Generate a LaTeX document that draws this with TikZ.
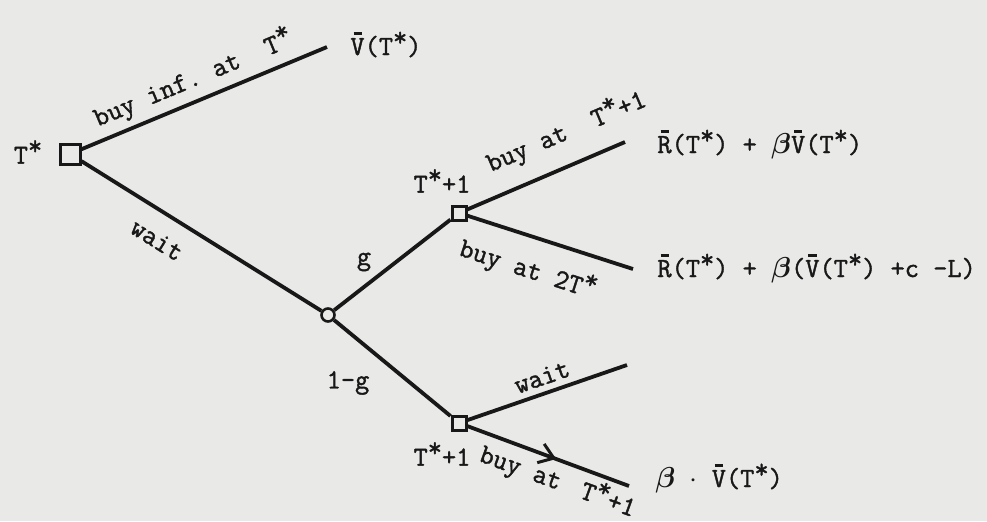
\documentclass[tikz,border=0pt]{standalone}
\usepackage{amsmath}
\usepackage{fontspec}
\setmonofont{Latin Modern Mono}[FakeBold=1.4]
\usepackage{tikz}
\usetikzlibrary{arrows.meta, positioning, decorations.markings}
\definecolor{paper}{RGB}{233,233,231}
\definecolor{ink}{RGB}{24,24,24}
\newcommand{\Ts}{T\raisebox{0.75ex}{*}}
\newcommand{\barred}[1]{\makebox[0pt][l]{\makebox[0.525em]{\rule[0.74em]{0.3em}{0.08em}}}#1}
\newcommand{\Vb}{\barred{V}}
\newcommand{\Rb}{\barred{R}}
\newcommand{\bt}{$\boldsymbol{\beta}$}

\begin{document}
\begin{tikzpicture}[
  x=0.5pt, y=-0.5pt,
  dec/.style={draw=ink, line width=1.5pt, fill=paper, minimum size=#1, inner sep=0pt},
  dec/.default=7pt,
  chance/.style={circle, draw=ink, line width=1.3pt, fill=paper, minimum size=6.5pt, inner sep=0pt},
  branch/.style={draw=ink, line width=1.9pt},
  lbl/.style={text=ink, inner sep=1pt, font=\ttfamily\fontsize{13.8}{15}\selectfont},
  payoff/.style={lbl, anchor=base west}
]
  \fill[paper] (0,0) rectangle (987,521);
  \useasboundingbox (0,0) rectangle (987,521);

  % decision and chance nodes
  \node[dec=10pt] (d0) at (70,154) {};
  \node[chance] (c1) at (328,315) {};
  \node[dec] (d1) at (459,213) {};
  \node[dec] (d2) at (459,423) {};

  % ends of the branches
  \coordinate (e1) at (327,47);
  \coordinate (e2) at (625,142);
  \coordinate (e3) at (633,269);
  \coordinate (e4) at (627,365);
  \coordinate (e5) at (629,486);

  \draw[branch] (d0) -- (e1);
  \draw[branch] (d0) -- (c1);
  \draw[branch] (c1) -- (d1);
  \draw[branch] (c1) -- (d2);
  \draw[branch] (d1) -- (e2);
  \draw[branch] (d1) -- (e3);
  \draw[branch] (d2) -- (e4);
  \draw[branch, postaction={decorate}, decoration={markings,
    mark=at position 0.55 with {\arrow{Straight Barb[length=7pt, width=10pt, line width=1.5pt]}}}]
    (d2) -- (e5);

  % node labels
  \node[lbl] (t0) at (28,152) {\Ts};
  \node[lbl] (t1) at (442,181) {\Ts+1};
  \node[lbl] (t2) at (442,454) {\Ts+1};

  % branch labels
  \node[lbl, rotate=22.6] (b1) at (193,78) {buy inf. at~~\Ts};
  \node[lbl, rotate=-32] (w1) at (157,240) {wait};
  \node[lbl] (p1) at (364,262) {g};
  \node[lbl] (p2) at (348,383) {1-g};
  \node[lbl, rotate=23] (b2) at (566,131) {buy at~~\Ts+1};
  \node[lbl, rotate=-18] (b3) at (528,269) {buy at 2\Ts};
  \node[lbl, rotate=19] (w2) at (542,377) {wait};
  \node[lbl, rotate=-20] (b4) at (558,481) {buy at\hspace{0.8em}\Ts+1};

  % payoffs
  \node[payoff] (v1) at (348,55) {\Vb(\Ts)};
  \node[payoff] (v2) at (655,153) {\Rb(\Ts) + \bt\Vb(\Ts)};
  \node[payoff] (v3) at (655,277) {\Rb(\Ts) + \bt(\Vb(\Ts) +c -L)};
  \node[payoff] (v4) at (653,487) {\bt{} $\cdot$ \Vb(\Ts)};
\end{tikzpicture}
\end{document}
